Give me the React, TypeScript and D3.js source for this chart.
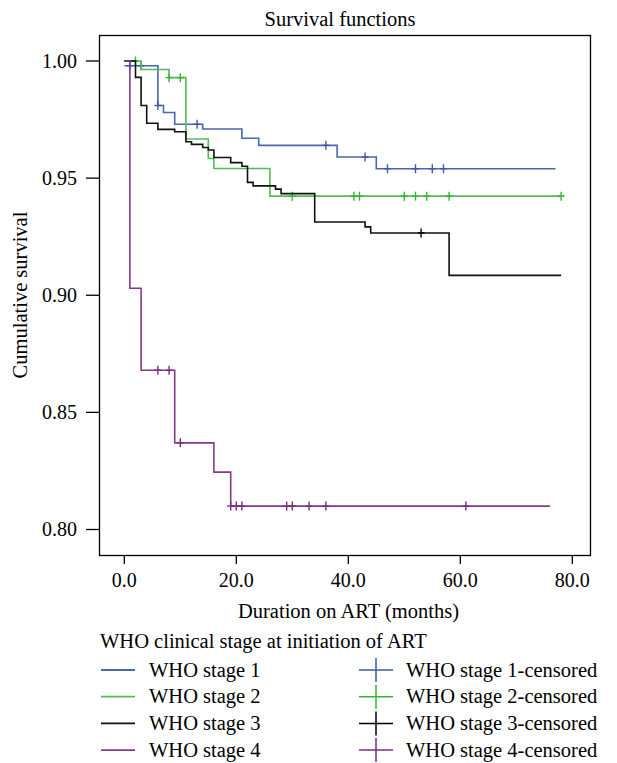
import React from "react";
import * as d3 from "d3";

const stageNames = ["WHO stage 1", "WHO stage 2", "WHO stage 3", "WHO stage 4"];
const stageColors = ["#4966b0", "#55bb55", "#111111", "#833b87"];
const censorColors = ["#3a5aad", "#35b535", "#000000", "#7a2e7e"];

const stage1Times = [0, 6, 7, 9, 14, 21, 24, 38, 45];
const stage1Surv = [0.998, 0.981, 0.978, 0.973, 0.971, 0.967, 0.964, 0.959, 0.954];
const stage1Censor = [1, 3, 6, 13, 36, 43, 47, 52, 55, 57];
const stage1End = 77;

const stage2Times = [0, 3, 8, 11, 15, 16, 26];
const stage2Surv = [1.0, 0.9964, 0.9929, 0.9667, 0.9584, 0.9541, 0.9423];
const stage2Censor = [2, 8, 10, 30, 41, 42, 50, 52, 54, 58, 78];
const stage2End = 78.5;

const stage3Times = [0, 2, 3, 4, 6, 9, 11, 12, 14, 15, 16, 19, 21, 22, 23, 27, 28, 34, 43, 44, 58];
const stage3Surv = [1.0, 0.993, 0.981, 0.9734, 0.9708, 0.9698, 0.9655, 0.9644, 0.9631, 0.962, 0.9588, 0.9566, 0.9551, 0.9482, 0.9467, 0.9453, 0.9434, 0.9313, 0.9292, 0.9266, 0.9085];
const stage3Censor = [53];
const stage3End = 78;

const stage4Times = [0, 1, 3, 9, 16, 19];
const stage4Surv = [1.0, 0.903, 0.868, 0.837, 0.8245, 0.81];
const stage4Censor = [6, 8, 10, 19, 20, 21, 29, 30, 33, 36, 61];
const stage4End = 76;

const xTicks = [0, 20, 40, 60, 80];
const yTicks = [0.8, 0.85, 0.9, 0.95, 1.0];

const series = [
  { times: stage1Times, surv: stage1Surv, censor: stage1Censor, end: stage1End },
  { times: stage2Times, surv: stage2Surv, censor: stage2Censor, end: stage2End },
  { times: stage3Times, surv: stage3Surv, censor: stage3Censor, end: stage3End },
  { times: stage4Times, surv: stage4Surv, censor: stage4Censor, end: stage4End },
];

const FONT = "Liberation Serif";

function survAt(times: number[], surv: number[], t: number) {
  let v = surv[0];
  for (let i = 0; i < times.length; i++) if (times[i] <= t) v = surv[i];
  return v;
}

export default function App() {
  const W = 617, H = 763;
  const frame = { left: 99.5, right: 590.5, top: 35.5, bottom: 555.5 };
  const x = d3.scaleLinear().domain([0, 80]).range([124.3, 572.3]);
  const y = d3.scaleLinear().domain([0.8, 1.0]).range([529.5, 61]);
  const line = d3
    .line<[number, number]>()
    .x((d) => x(d[0]))
    .y((d) => y(d[1]))
    .curve(d3.curveStepAfter);
  const ts = { fontFamily: FONT } as React.CSSProperties;

  return (
    <svg width={W} height={H} style={{ display: "block", position: "absolute", left: 0, top: 0, fontFamily: FONT }}>
      <rect width={W} height={H} fill="#fff" />
      <text style={ts} x={340} y={26} textAnchor="middle" fontSize={20.5}>Survival functions</text>
      <rect x={frame.left} y={frame.top} width={frame.right - frame.left} height={frame.bottom - frame.top} fill="none" stroke="#000" strokeWidth={1.3} />
      {yTicks.map((t) => (
        <g key={t}>
          <line x1={86} x2={frame.left} y1={y(t)} y2={y(t)} stroke="#000" strokeWidth={1.3} />
          <text style={ts} x={77} y={y(t)} dy="0.33em" textAnchor="end" fontSize={20}>{t.toFixed(2)}</text>
        </g>
      ))}
      {xTicks.map((t) => (
        <g key={t}>
          <line x1={x(t)} x2={x(t)} y1={frame.bottom} y2={564} stroke="#000" strokeWidth={1.3} />
          <text style={ts} x={x(t)} y={587} textAnchor="middle" fontSize={20}>{t.toFixed(1)}</text>
        </g>
      ))}
      <text style={ts} x={348.5} y={618} textAnchor="middle" fontSize={20.5}>Duration on ART (months)</text>
      <text style={ts} transform={`translate(27,295) rotate(-90)`} textAnchor="middle" fontSize={20.5}>Cumulative survival</text>
      {series.map((s, i) => {
        const pts: [number, number][] = s.times.map((t, j) => [t, s.surv[j]] as [number, number]);
        pts.push([s.end, s.surv[s.surv.length - 1]]);
        return (
          <g key={i}>
            <path d={line(pts) || ""} fill="none" stroke={stageColors[i]} strokeWidth={1.6} />
            {s.censor.map((c, k) => {
              const cx = x(c), cy = y(survAt(s.times, s.surv, c));
              return (
                <g key={k} stroke={censorColors[i]} strokeWidth={1.4}>
                  <line x1={cx} x2={cx} y1={cy - 4.5} y2={cy + 4.5} />
                  <line x1={cx - 3.5} x2={cx + 3.5} y1={cy} y2={cy} />
                </g>
              );
            })}
          </g>
        );
      })}
      <text style={ts} x={100} y={648} fontSize={20.5}>WHO clinical stage at initiation of ART</text>
      {stageNames.map((n, i) => {
        const ry = 670 + i * 26.7;
        return (
          <g key={n}>
            <line x1={101} x2={135} y1={ry} y2={ry} stroke={stageColors[i]} strokeWidth={1.8} />
            <text style={ts} x={149} y={ry} dy="0.33em" fontSize={20.5}>{n}</text>
            <line x1={359} x2={393} y1={ry} y2={ry} stroke={censorColors[i]} strokeWidth={1.5} />
            <line x1={376} x2={376} y1={ry - 12} y2={ry + 12} stroke={censorColors[i]} strokeWidth={1.5} />
            <text style={ts} x={406} y={ry} dy="0.33em" fontSize={20.5}>{n}-censored</text>
          </g>
        );
      })}
    </svg>
  );
}
